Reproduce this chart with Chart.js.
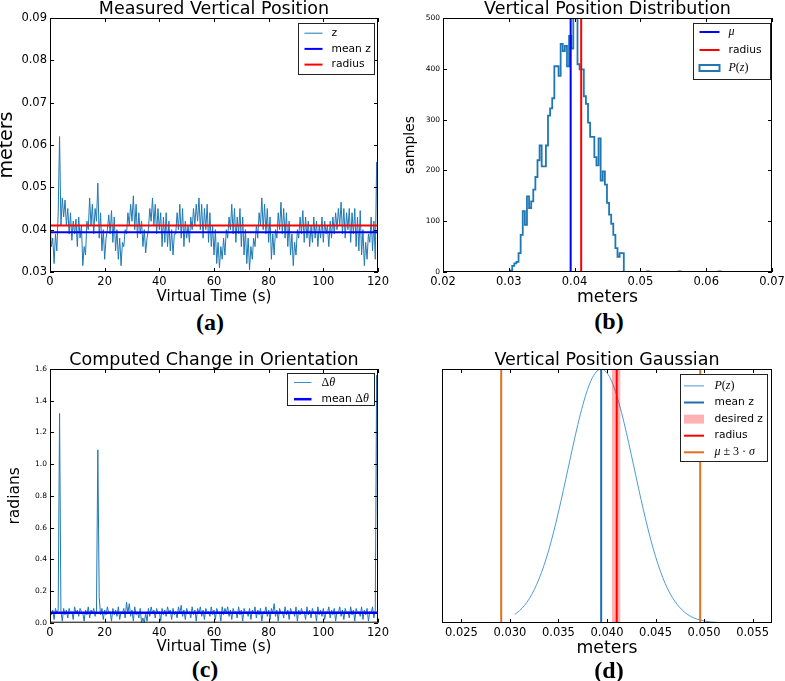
<!DOCTYPE html>
<html><head><meta charset="utf-8">
<script src="https://cdn.jsdelivr.net/npm/chart.js@4.4.1/dist/chart.umd.min.js"></script>
<style>
html,body{margin:0;padding:0;background:#fff;overflow:hidden;width:785px;height:681px;}
.panel{position:absolute;}
.panel canvas{display:block;}
.lab{position:absolute;font-family:'Liberation Serif','Times New Roman',serif;font-weight:bold;font-size:24px;color:#000;transform:translate(-50%,-50%);line-height:1;white-space:nowrap;}
</style></head><body>
<div class="panel" style="left:0;top:0"><canvas id="ca" width="392" height="306" style="width:392px;height:306px"></canvas></div>
<div class="panel" style="left:395px;top:0"><canvas id="cb" width="390" height="308" style="width:390px;height:308px"></canvas></div>
<div class="panel" style="left:0;top:340px"><canvas id="cc" width="392" height="316" style="width:392px;height:316px"></canvas></div>
<div class="panel" style="left:395px;top:340px"><canvas id="cd" width="390" height="319" style="width:390px;height:319px"></canvas></div>
<div class="lab" style="left:210px;top:322px">(a)</div>
<div class="lab" style="left:609px;top:321px">(b)</div>
<div class="lab" style="left:205px;top:669px">(c)</div>
<div class="lab" style="left:609px;top:670px">(d)</div>
<script>
// ---------------- DATA ----------------
const TIME_STEP_S = 0.5; // sampling interval of the plotted series
const zMeters = [
0.042,0.036, 0.038,0.032, 0.039,0.035, 0.044,0.062, 0.041,0.0475, 0.043,0.047, 0.041,0.045, 0.039,0.044, 0.0375,0.042, 0.039,0.0425,
0.036,0.043, 0.038,0.041, 0.0315,0.036, 0.034,0.042, 0.040,0.0475, 0.041,0.046, 0.039,0.045, 0.042,0.051, 0.038,0.044, 0.035,0.040,
0.033,0.038, 0.040,0.0435, 0.039,0.0445, 0.037,0.043, 0.035,0.040, 0.033,0.038, 0.0315,0.037, 0.036,0.040, 0.039,0.044, 0.041,0.046,
0.042,0.048, 0.040,0.046, 0.038,0.044, 0.039,0.042, 0.036,0.040, 0.0345,0.038, 0.040,0.045, 0.042,0.0475, 0.041,0.046, 0.039,0.045,
0.040,0.044, 0.036,0.043, 0.037,0.044, 0.036,0.042, 0.035,0.040, 0.034,0.039, 0.039,0.044, 0.040,0.046, 0.038,0.045, 0.036,0.042,
0.038,0.041, 0.037,0.043, 0.040,0.045, 0.041,0.046, 0.042,0.0475, 0.040,0.046, 0.038,0.045, 0.040,0.046, 0.037,0.044, 0.036,0.041,
0.034,0.040, 0.032,0.037, 0.031,0.036, 0.033,0.038, 0.034,0.040, 0.038,0.043, 0.040,0.046, 0.039,0.045, 0.037,0.043, 0.039,0.045,
0.036,0.043, 0.034,0.040, 0.032,0.038, 0.0305,0.036, 0.033,0.038, 0.036,0.041, 0.038,0.044, 0.041,0.0475, 0.040,0.046, 0.039,0.045,
0.037,0.043, 0.033,0.039, 0.034,0.040, 0.038,0.044, 0.040,0.0465, 0.039,0.045, 0.038,0.044, 0.036,0.042, 0.034,0.039, 0.0315,0.037,
0.034,0.040, 0.038,0.043, 0.039,0.0445, 0.037,0.043, 0.038,0.042, 0.036,0.041, 0.037,0.043, 0.038,0.042, 0.036,0.041, 0.038,0.043,
0.037,0.042, 0.039,0.041, 0.036,0.042, 0.038,0.043, 0.039,0.044, 0.040,0.045, 0.041,0.0465, 0.039,0.045, 0.038,0.044, 0.040,0.045,
0.037,0.044, 0.039,0.045, 0.036,0.043, 0.035,0.0445, 0.034,0.040, 0.0315,0.037, 0.033,0.039, 0.037,0.043, 0.035,0.042, 0.033,0.056,
0.033];
const zMean = 0.0394;
const radiusM = 0.041;

const histStart = 0.0302;
const histBinWidth = 0.00032;
const histCounts = [
3,12,17,20,37,73,120,93,149,126, 139,162,187,220,249,208,208,249,308,322,
342,405,405,386,449,435,445,405,465,440, 515,505,409,399,399,346,331,294,266,266,
226,210,263,180,198,172,136,113,95,73, 47,30,37,37,0,0,0,0,0,0,
0,0,0,0,0,1,0,0,0,0, 0,0,0,0,0,0,0,0,0,0,
1,0,0,0,0,0,0,0,0,0, 0,0,0,0,0,0,0,0,0,1];

const dTheta = [
0.09,0.05, 0.08,0.02, 0.09,0.06, 0.08,1.32, 0.07,0.01, 0.09,0.05, 0.08,0.03, 0.09,0.06, 0.07,0.02, 0.10,0.06,
0.08,0.04, 0.09,0.07, 0.06,0.01, 0.08,0.05, 0.10,0.03, 0.08,0.06, 0.09,0.04, 0.07,1.09, 0.16,0.05, 0.09,0.02,
0.08,0.05, 0.10,0.06, 0.07,0.01, 0.09,0.05, 0.08,0.04, 0.10,0.02, 0.07,0.06, 0.09,0.03, 0.13,0.06, 0.12,0.04,
0.08,0.01, 0.10,0.05, 0.07,0.03, 0.09,0.00, 0.03,0.00, 0.06,0.01, 0.09,0.04, 0.10,0.06, 0.08,0.03, 0.09,0.06,
0.07,0.01, 0.09,0.05, 0.08,0.04, 0.10,0.06, 0.08,0.02, 0.09,0.05, 0.07,0.03, 0.10,0.06, 0.11,0.04, 0.08,0.02,
0.09,0.06, 0.07,0.03, 0.10,0.05, 0.08,0.01, 0.09,0.06, 0.10,0.04, 0.08,0.02, 0.09,0.06, 0.07,0.04, 0.10,0.05,
0.08,0.02, 0.09,0.06, 0.07,0.01, 0.10,0.05, 0.09,0.06, 0.10,0.04, 0.08,0.02, 0.09,0.06, 0.07,0.03, 0.10,0.05,
0.08,0.01, 0.09,0.06, 0.07,0.04, 0.09,0.02, 0.08,0.06, 0.10,0.03, 0.08,0.05, 0.09,0.01, 0.07,0.06, 0.10,0.04,
0.08,0.02, 0.09,0.06, 0.12,0.04, 0.08,0.01, 0.09,0.06, 0.07,0.03, 0.10,0.05, 0.08,0.02, 0.09,0.06, 0.07,0.04,
0.10,0.01, 0.08,0.05, 0.09,0.06, 0.07,0.02, 0.10,0.05, 0.08,0.03, 0.09,0.06, 0.07,0.01, 0.10,0.05, 0.08,0.04,
0.09,0.02, 0.07,0.06, 0.10,0.03, 0.08,0.05, 0.09,0.01, 0.07,0.06, 0.10,0.04, 0.08,0.02, 0.09,0.06, 0.07,0.03,
0.10,0.05, 0.08,0.01, 0.09,0.06, 0.07,0.04, 0.10,0.02, 0.08,0.05, 0.09,0.01, 0.07,0.06, 0.10,0.03, 0.08,1.56,
0.05];
const dThetaMean = 0.063;

const gaussZ = [0.0305,0.0310,0.0315,0.0320,0.0325,0.0330,0.0335,0.0340,0.0345,0.0350,0.0355,0.0360,0.0365,0.0370,0.0375,0.0380,0.0385,0.0390,0.0394,
0.0400,0.0405,0.0410,0.0415,0.0420,0.0425,0.0430,0.0435,0.0440,0.0445,0.0450,0.0455,0.0460,0.0465,0.0470,0.0475,0.0480,0.0485,0.0490,0.0495,0.0500,0.0505,0.0510,0.0515,0.0520];
const gaussP = [0.034,0.049,0.069,0.096,0.131,0.174,0.226,0.287,0.358,0.437,0.522,0.610,0.698,0.782,0.857,0.920,0.966,0.993,1.000,
0.985,0.950,0.896,0.828,0.749,0.663,0.575,0.487,0.405,0.329,0.262,0.204,0.155,0.116,0.085,0.061,0.042,0.029,0.019,0.013,0.008,0.005,0.003,0.002,0.001];
const desiredZ = [0.0405, 0.0414];
const sigma3Bounds = [0.0291, 0.0496];

// ---------------- HELPERS ----------------
Chart.defaults.font.family = "'DejaVu Sans', sans-serif";
Chart.defaults.color = '#000';
const FONT = "'DejaVu Sans', sans-serif";
const timeSeries = arr => arr.map((v, i) => ({x: i * TIME_STEP_S, y: v}));
const hLine = (y, x0, x1) => [{x: x0, y}, {x: x1, y}];
const vLine = (x, y0, y1) => [{x, y: y0}, {x, y: y1}];

const frameTicks = {
  id: 'frameTicks',
  afterDatasetsDraw(chart, args, opts) {
    const {ctx, chartArea: a, scales} = chart;
    ctx.save();
    ctx.strokeStyle = '#000';
    ctx.lineWidth = 1;
    const len = 4;
    ctx.beginPath();
    if (opts.x !== false) scales.x.ticks.forEach(t => {
      const p = Math.round(scales.x.getPixelForValue(t.value)) + 0.5;
      ctx.moveTo(p, a.bottom); ctx.lineTo(p, a.bottom - len);
      ctx.moveTo(p, a.top); ctx.lineTo(p, a.top + len);
    });
    if (opts.y !== false) scales.y.ticks.forEach(t => {
      const p = Math.round(scales.y.getPixelForValue(t.value)) + 0.5;
      ctx.moveTo(a.left, p); ctx.lineTo(a.left + len, p);
      ctx.moveTo(a.right, p); ctx.lineTo(a.right - len, p);
    });
    ctx.stroke();
    ctx.strokeRect(a.left + 0.5, a.top + 0.5, a.width - 1, a.height - 1);
    ctx.restore();
  }
};

const boxLegend = {
  id: 'boxLegend',
  afterDraw(chart, args, L) {
    if (!L || !L.items) return;
    const {ctx, chartArea: a} = chart;
    const x0 = Math.round(a.right - L.right - L.w) + 0.5, y0 = Math.round(a.top + L.top) + 0.5;
    ctx.save();
    ctx.fillStyle = '#fff';
    ctx.fillRect(x0, y0, L.w, L.h);
    ctx.strokeStyle = '#222';
    ctx.lineWidth = 1;
    ctx.strokeRect(x0, y0, L.w, L.h);
    L.items.forEach((it, i) => {
      const cy = y0 + L.first + i * L.gap;
      const sx = x0 + L.sx;
      if (it.kind === 'rect') {
        ctx.strokeStyle = it.color; ctx.lineWidth = it.width;
        ctx.strokeRect(sx, cy - 3, L.slen, 6);
      } else if (it.kind === 'band') {
        ctx.fillStyle = it.color;
        ctx.fillRect(sx, cy - it.width / 2, L.slen, it.width);
      } else {
        ctx.strokeStyle = it.color; ctx.lineWidth = it.width;
        ctx.beginPath(); ctx.moveTo(sx, cy); ctx.lineTo(sx + L.slen, cy); ctx.stroke();
      }
      let tx = x0 + L.tx;
      ctx.fillStyle = '#000'; ctx.textBaseline = 'middle'; ctx.textAlign = 'left';
      it.text.forEach(seg => {
        if (seg.m) ctx.font = `italic ${L.mathSize}px 'Liberation Serif', serif`;
        else if (seg.u) ctx.font = `${L.mathSize}px 'Liberation Serif', serif`;
        else ctx.font = `${L.size}px ${FONT}`;
        ctx.fillText(seg.t, tx, cy);
        tx += ctx.measureText(seg.t).width;
      });
    });
    ctx.restore();
  }
};

function fixAxis(w, h) {
  return s => {
    if (w !== undefined) { s.width = w; s.paddingTop = 0; s.paddingBottom = 0; }
    if (h !== undefined) { s.height = h; s.paddingLeft = 0; s.paddingRight = 0; }
  };
}

function baseOptions(o) {
  return {
    responsive: false,
    animation: false,
    events: [],
    layout: {padding: o.padding},
    plugins: {
      legend: {display: false},
      tooltip: {enabled: false},
      title: {display: true, fullSize: false, text: o.title, color: '#000', font: {size: 17.5, family: FONT, weight: 'normal', lineHeight: '18px'}, padding: {top: 0, bottom: 0}},
      frameTicks: {y: o.yTicks !== false},
      boxLegend: o.legend
    },
    scales: {
      x: {
        type: 'linear', min: o.x.min, max: o.x.max,
        grid: {display: false, drawTicks: false}, border: {display: false},
        ticks: {stepSize: o.x.step, autoSkip: false, maxRotation: 0, includeBounds: false, padding: 3, font: {size: 11.5, family: FONT}, callback: o.x.fmt},
        title: {display: true, text: o.x.title, color: '#000', font: {size: o.x.tsize, family: FONT, lineHeight: 1.2}, padding: 0},
        afterFit: fixAxis(undefined, o.x.h)
      },
      y: {
        type: 'linear', min: o.y.min, max: o.y.max,
        grid: {display: false, drawTicks: false}, border: {display: false},
        ticks: {display: o.yTicks !== false, stepSize: o.y.step, autoSkip: false, includeBounds: false, padding: 3, font: {size: o.y.fsize, family: FONT}, callback: o.y.fmt},
        title: {display: !!o.y.title, text: o.y.title || '', color: '#000', font: {size: o.y.tsize || 12, family: FONT, lineHeight: 1.2}, padding: {top: o.y.tpad || 0, bottom: 0}},
        afterFit: fixAxis(o.y.w, undefined)
      }
    }
  };
}
const lineDs = (data, color, width, order, extra) => Object.assign({data, borderColor: color, backgroundColor: color, borderWidth: width, pointRadius: 0, tension: 0, fill: false, order}, extra || {});
const Z_COLOR = '#1f78b4';

// ---------------- (a) ----------------
new Chart(document.getElementById('ca'), {
  type: 'line',
  data: {datasets: [
    lineDs(timeSeries(zMeters), Z_COLOR, 1, 3),
    lineDs(hLine(zMean, 0, 120), '#0000ff', 2, 2),
    lineDs(hLine(radiusM, 0, 120), '#ff0000', 2, 1)
  ]},
  options: baseOptions({
    title: 'Measured Vertical Position',
    padding: {top: 0, left: 0, right: 14, bottom: 0},
    x: {min: 0, max: 120, step: 20, fmt: v => String(v), title: 'Virtual Time (s)', tsize: 15, h: 34},
    y: {min: 0.03, max: 0.09, step: 0.01, fmt: v => v.toFixed(2), fsize: 11.5, title: 'meters', tsize: 19, w: 50, tpad: -3.9},
    legend: {right: 4.5, top: 5, w: 76, h: 51, first: 9.7, gap: 15.7, sx: 6, slen: 18, tx: 33, size: 10.7, mathSize: 12,
      items: [
        {kind: 'line', color: Z_COLOR, width: 1, text: [{t: 'z'}]},
        {kind: 'line', color: '#0000ff', width: 2, text: [{t: 'mean z'}]},
        {kind: 'line', color: '#ff0000', width: 2, text: [{t: 'radius'}]}
      ]}
  }),
  plugins: [frameTicks, boxLegend]
});

// ---------------- (b) ----------------
const histPoints = [{x: histStart, y: 0}]
  .concat(histCounts.map((c, k) => ({x: histStart + k * histBinWidth, y: c})))
  .concat([{x: histStart + histCounts.length * histBinWidth, y: histCounts[histCounts.length - 1]}, {x: histStart + histCounts.length * histBinWidth, y: 0}]);
new Chart(document.getElementById('cb'), {
  type: 'line',
  data: {datasets: [
    lineDs(histPoints, Z_COLOR, 1.8, 3, {stepped: 'before'}),
    lineDs(vLine(zMean, 0, 500), '#0000ff', 2, 2),
    lineDs(vLine(radiusM, 0, 500), '#ff0000', 2, 1)
  ]},
  options: baseOptions({
    title: 'Vertical Position Distribution',
    padding: {top: 0, left: 0, right: 13, bottom: 0},
    x: {min: 0.02, max: 0.07, step: 0.01, fmt: v => v.toFixed(2), title: 'meters', tsize: 17.3, h: 36},
    y: {min: 0, max: 500, step: 100, fmt: v => String(Math.round(v)), fsize: 7.5, title: 'samples', tsize: 14, w: 48, tpad: 6.6},
    legend: {right: 2, top: 5, w: 77, h: 56, first: 8.5, gap: 18, sx: 6, slen: 20, tx: 35, size: 10.7, mathSize: 12,
      items: [
        {kind: 'line', color: '#0000ff', width: 2, text: [{t: 'μ', m: true}]},
        {kind: 'line', color: '#ff0000', width: 2, text: [{t: 'radius'}]},
        {kind: 'rect', color: Z_COLOR, width: 2, text: [{t: 'P', m: true}, {t: '(', u: true}, {t: 'z', m: true}, {t: ')', u: true}]}
      ]}
  }),
  plugins: [frameTicks, boxLegend]
});

// ---------------- (c) ----------------
new Chart(document.getElementById('cc'), {
  type: 'line',
  data: {datasets: [
    lineDs(timeSeries(dTheta), Z_COLOR, 1, 2),
    lineDs(hLine(dThetaMean, 0, 120), '#0000ff', 2.5, 1)
  ]},
  options: baseOptions({
    title: 'Computed Change in Orientation',
    padding: {top: 11, left: 0, right: 14, bottom: 0},
    x: {min: 0, max: 120, step: 20, fmt: v => String(v), title: 'Virtual Time (s)', tsize: 15, h: 33.3},
    y: {min: 0, max: 1.6, step: 0.2, fmt: v => v.toFixed(1), fsize: 7.5, title: 'radians', tsize: 15.5, w: 50, tpad: 5.7},
    legend: {right: 4, top: 4.3, w: 87, h: 32, first: 9, gap: 16.7, sx: 6.5, slen: 17.5, tx: 34, size: 10.7, mathSize: 12,
      items: [
        {kind: 'line', color: '#3a8fd0', width: 1, text: [{t: 'Δ', u: true}, {t: 'θ', m: true}]},
        {kind: 'line', color: '#0000ff', width: 2.5, text: [{t: 'mean '}, {t: 'Δ', u: true}, {t: 'θ', m: true}]}
      ]}
  }),
  plugins: [frameTicks, boxLegend]
});

// ---------------- (d) ----------------
const SIGMA_COLOR = '#e0711f';
new Chart(document.getElementById('cd'), {
  type: 'line',
  data: {datasets: [
    lineDs(gaussZ.map((z, i) => ({x: z, y: gaussP[i]})), '#4d9ad6', 1, 6, {cubicInterpolationMode: 'monotone'}),
    lineDs(vLine(zMean, 0, 1), '#1f6fb0', 2, 5),
    lineDs(desiredZ.map(z => ({x: z, y: 1})), 'rgba(255,0,0,0)', 0, 4, {fill: 'origin', backgroundColor: 'rgba(255,0,0,0.3)'}),
    lineDs(vLine(radiusM, 0, 1), '#ff0000', 2, 3),
    lineDs(vLine(sigma3Bounds[0], 0, 1), SIGMA_COLOR, 2, 2),
    lineDs(vLine(sigma3Bounds[1], 0, 1), SIGMA_COLOR, 2, 1)
  ]},
  options: baseOptions({
    title: 'Vertical Position Gaussian',
    padding: {top: 11, left: 0, right: 13, bottom: 0},
    yTicks: false,
    x: {min: 0.023, max: 0.057, step: 0.005, fmt: v => v.toFixed(3), title: 'meters', tsize: 17.3, h: 36},
    y: {min: 0, max: 1, step: 0.2, fmt: v => '', fsize: 7.5, w: 47},
    legend: {right: 5.3, top: 5.3, w: 87, h: 87, first: 11.4, gap: 16.6, sx: 3.5, slen: 20, tx: 34, size: 10.7, mathSize: 12,
      items: [
        {kind: 'line', color: '#4d9ad6', width: 1, text: [{t: 'P', m: true}, {t: '(', u: true}, {t: 'z', m: true}, {t: ')', u: true}]},
        {kind: 'line', color: '#1f6fb0', width: 2, text: [{t: 'mean z'}]},
        {kind: 'band', color: 'rgba(255,0,0,0.3)', width: 9, text: [{t: 'desired z'}]},
        {kind: 'line', color: '#ff0000', width: 2, text: [{t: 'radius'}]},
        {kind: 'line', color: SIGMA_COLOR, width: 2, text: [{t: 'μ', m: true}, {t: ' ± 3 · ', u: true}, {t: 'σ', m: true}]}
      ]}
  }),
  plugins: [frameTicks, boxLegend]
});
</script>
</body></html>
